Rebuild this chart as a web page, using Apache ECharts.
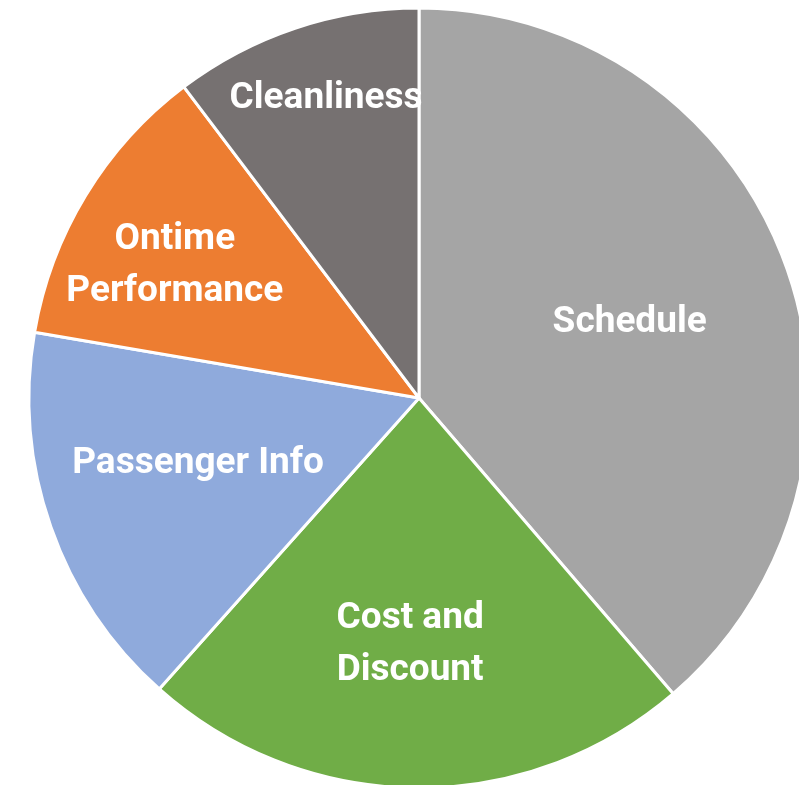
<!DOCTYPE html>
<html>
<head>
<meta charset="utf-8">
<script src="https://cdn.jsdelivr.net/npm/echarts@6/dist/echarts.min.js"></script>
<style>
  html, body { margin: 0; padding: 0; background: #fff; }
  #main { width: 799px; height: 785px; }
</style>
</head>
<body>
<div id="main"></div>
<script>
var categories = ['Schedule', 'Cost and\nDiscount', 'Passenger Info', 'Ontime\nPerformance', 'Cleanliness'];
var shares = [38.7, 22.9, 16.1, 12.0, 10.3];
var colors = ['#A5A5A5', '#70AD47', '#8FAADC', '#ED7D31', '#767171'];
// nudge labels away from the default mid-radius spot, like the original
var labelOffsets = [[25, -6], [-7, 49], [-34, 0], [-75, -29], [-30, -112]];

var pieData = [];
for (var i = 0; i < categories.length; i++) {
  pieData.push({
    name: categories[i],
    value: shares[i],
    itemStyle: { color: colors[i] },
    label: { offset: labelOffsets[i] }
  });
}

var chart = echarts.init(document.getElementById('main'));
chart.setOption({
  animation: false,
  series: [{
    type: 'pie',
    center: [419, 398],
    radius: 390,
    startAngle: 90,
    clockwise: true,
    avoidLabelOverlap: false,
    itemStyle: { borderColor: '#fff', borderWidth: 3 },
    label: {
      show: true,
      position: 'inside',
      formatter: '{b}',
      color: '#fff',
      fontFamily: 'Roboto',
      fontWeight: 'bold',
      fontSize: 37,
      lineHeight: 52
    },
    labelLine: { show: false },
    emphasis: { disabled: true },
    data: pieData
  }]
});
</script>
</body>
</html>
